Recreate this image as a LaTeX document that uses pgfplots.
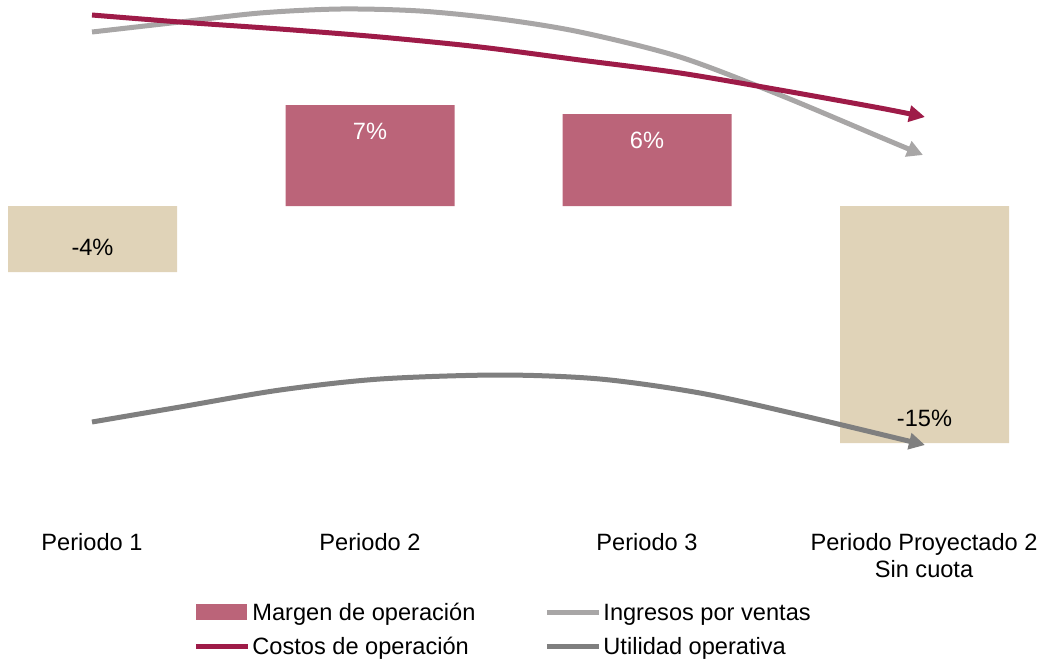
\documentclass[border=0pt]{standalone}
\usepackage{pgfplots}
\pgfplotsset{compat=1.18}
\usepackage{fontspec}
\setmainfont{Liberation Sans}
\usetikzlibrary{arrows.meta}
\definecolor{pinkbar}{RGB}{187,100,121}
\definecolor{tanbar}{RGB}{224,211,184}
\definecolor{redline}{RGB}{158,27,72}
\definecolor{lgray}{RGB}{168,166,166}
\definecolor{dgray}{RGB}{127,127,127}
\newcommand{\chfont}{\fontsize{11.8}{13.5}\selectfont}
\begin{document}
\begin{tikzpicture}
\begin{axis}[
  at={(0,0)}, anchor=south west,
  scale only axis, width=522pt, height=250pt,
  xmin=0, xmax=1044, ymin=-294, ymax=206,
  axis line style={draw=none}, major tick length=0pt,
  ytick=\empty,
  xtick={92,370,647,924},
  xticklabels={{Periodo 1\\\mbox{}}, {Periodo 2\\\mbox{}}, {Periodo 3\\\mbox{}}, {Periodo Proyectado 2\\Sin cuota}},
  xticklabel style={font=\chfont, align=center, anchor=north, inner sep=0pt, text height=8.5pt, yshift=-30pt, text=black},
  clip=false,
  legend columns=2,
  legend image code/.code={\draw[#1,-] (0pt,4pt) -- (26pt,4pt);},
  legend style={draw=none, fill=none, at={(axis description cs:0.1849,-0.206)}, anchor=north west,
    inner sep=0pt, column sep=1pt, row sep=8.5pt, font=\chfont,
    nodes={inner sep=0pt, text height=8.5pt, text depth=0pt, anchor=base west}},
]
% tan bars (negative margins)
\addplot[ybar, bar width=169, bar shift=0pt, fill=tanbar, draw=none, forget plot,
  point meta=explicit symbolic, nodes near coords,
  every node near coord/.append style={anchor=center, yshift=12.5pt, font=\chfont, text=black}]
  coordinates {(92.5,-66) [-4\%] (924.5,-237) [-15\%]};
% pink bars (positive margins)
\addplot[ybar, bar width=169, bar shift=0pt, fill=pinkbar, draw=none,
  point meta=explicit symbolic, nodes near coords,
  every node near coord/.append style={anchor=center, yshift=-13pt, font=\chfont, text=white},
  legend image code/.code={\fill[pinkbar] (0pt,0pt) rectangle (25.5pt,8pt);}]
  coordinates {(370,101) [7\%] (647,92) [6\%]};
\addlegendentry{\makebox[145pt][l]{Margen de operación}}
% Ingresos por ventas
\addplot[smooth, line width=2.5pt, color=lgray, -{Stealth[length=8pt,width=8pt,inset=0pt]}]
  coordinates {(92,174) (180,184) (260,193) (340,197) (420,195) (500,187) (580,174) (680,149) (780,111) (880,69) (923,51)};
\addlegendentry{Ingresos por ventas}
% Costos de operacion
\addplot[smooth, line width=2.5pt, color=redline, -{Stealth[length=8pt,width=8pt,inset=0pt]}]
  coordinates {(92,191) (180,184) (280,177) (380,169) (480,159) (580,146) (680,133) (780,116) (880,98) (925,89)};
\addlegendentry{\makebox[145pt][l]{Costos de operación}}
% Utilidad operativa
\addplot[smooth, line width=2.5pt, color=dgray, -{Stealth[length=8pt,width=8pt,inset=0pt]}]
  coordinates {(92,-216) (180,-201) (280,-184) (380,-173) (500,-169) (600,-173) (700,-187) (800,-209) (925,-239)};
\addlegendentry{Utilidad operativa}
\end{axis}
\pgfresetboundingbox
\useasboundingbox (0pt,-80.5pt) rectangle (522pt,250pt);
\end{tikzpicture}
\end{document}
